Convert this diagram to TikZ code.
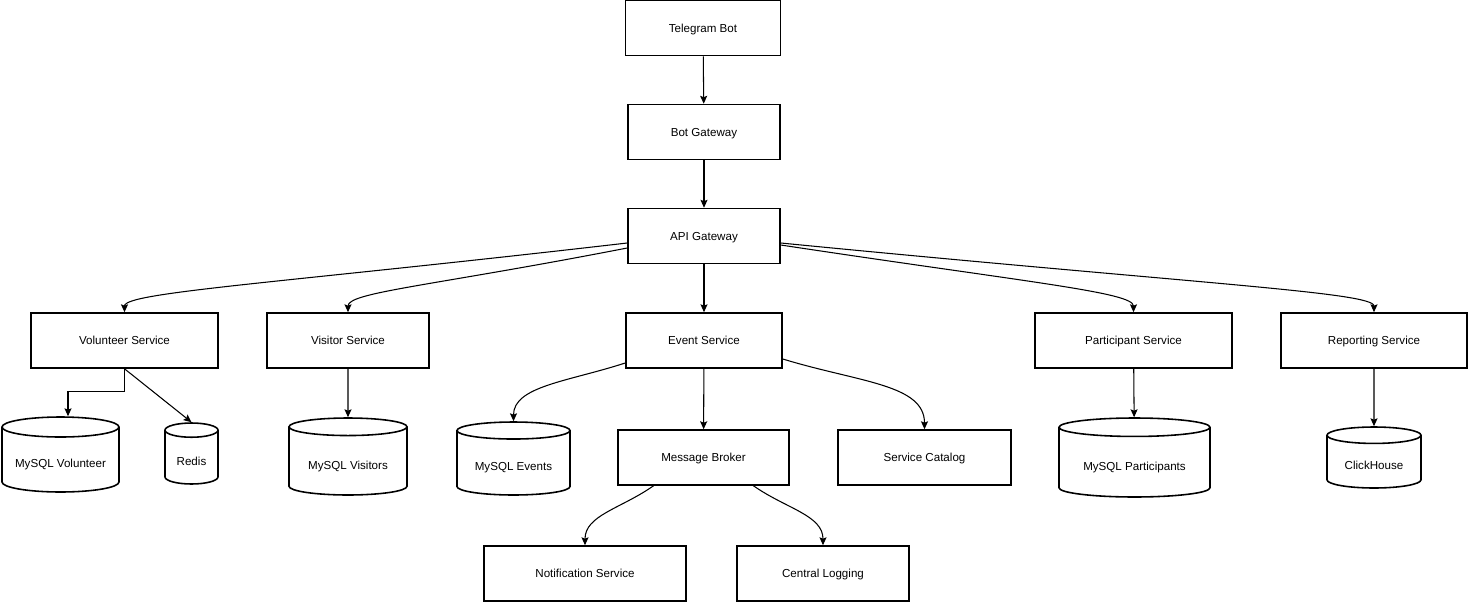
\documentclass[tikz,border=0pt]{standalone}
\usepackage{fontspec}
\setmainfont{Liberation Sans}
\usetikzlibrary{shapes.geometric,arrows.meta,positioning}

\tikzset{
  box/.style={draw, line width=0.9pt, minimum width=#1, minimum height=1.1cm, inner sep=0pt, text height=4.8pt, text depth=0pt, font=\fontsize{6.6}{8}\selectfont},
  db/.style={cylinder, shape border rotate=90, anchor=shape center, draw, line width=0.9pt, inner sep=0pt, text height=10.3pt, text depth=1.5pt, font=\fontsize{6.6}{8}\selectfont},
  arr/.style={-{Stealth[length=4.5pt,width=4pt,inset=0.8pt]}, line width=0.6pt}
}

\begin{document}
\begin{tikzpicture}[x=0.02cm,y=0.02cm]
      \useasboundingbox (0,0) rectangle (1468,-602);
      \node[box=3.1cm] (tg) at (703,-28) {Telegram Bot};
      \node[box=3.04cm] (botgw) at (704,-132) {Bot Gateway};
      \node[box=3.04cm] (apigw) at (704,-236) {API Gateway};
      \node[box=3.74cm] (vol) at (124.5,-340.5) {Volunteer Service};
      \node[box=3.24cm] (vis) at (348,-340.5) {Visitor Service};
      \node[box=3.12cm] (evt) at (704,-340.5) {Event Service};
      \node[box=3.94cm] (part) at (1133.5,-340.5) {Participant Service};
      \node[box=3.72cm] (rep) at (1374,-340.5) {Reporting Service};
      \node[box=3.42cm] (broker) at (703.5,-457.5) {Message Broker};
      \node[box=3.46cm] (catalog) at (924.5,-457.5) {Service Catalog};
      \node[box=4.04cm] (notif) at (585,-573.5) {Notification Service};
      \node[box=3.44cm] (logging) at (823,-573.5) {Central Logging};
      \node[db, minimum width=2.34cm, minimum height=1.5cm, aspect=0.22] (dbvol) at (60.5,-454.5) {MySQL Volunteer};
      \node[db, minimum width=1.06cm, minimum height=1.22cm, aspect=0.48] (redis) at (191.5,-453.5) {Redis};
      \node[db, minimum width=2.36cm, minimum height=1.54cm, aspect=0.22] (dbvis) at (348,-456.5) {MySQL Visitors};
      \node[db, minimum width=2.26cm, minimum height=1.46cm, aspect=0.22] (dbevt) at (513.5,-458.5) {MySQL Events};
      \node[db, minimum width=3.02cm, minimum height=1.58cm, aspect=0.18] (dbpart) at (1134.5,-457.5) {MySQL Participants};
      \node[db, minimum width=1.88cm, minimum height=1.22cm, aspect=0.28] (click) at (1374,-457.5) {ClickHouse};

      \draw[arr] (tg) -- (botgw);
      \draw[arr] (botgw) -- (apigw);
      \draw[arr] (apigw) -- (evt);
      \draw[arr] ([yshift=-0.14cm]apigw.west) to[out=186.6,in=90,out distance=7cm,in distance=0.4cm] (vol.north);
      \draw[arr] ([yshift=-0.24cm]apigw.west) to[out=191,in=90,out distance=4cm,in distance=0.4cm] (vis.north);
      \draw[arr] ([yshift=-0.18cm]apigw.east) to[out=351.4,in=90,out distance=5cm,in distance=0.4cm] (part.north);
      \draw[arr] ([yshift=-0.14cm]apigw.east) to[out=354.4,in=90,out distance=8.4cm,in distance=0.4cm] (rep.north);
      \draw[arr] (vol.south) -- ++(0,-23) -| ([xshift=0.15cm]dbvol.north);
      \draw[arr] (vol.south) -- (redis.north);
      \draw[arr] (vis) -- (dbvis);
      \draw[arr] (evt) -- (broker);
      \draw[arr] ([yshift=-0.45cm]evt.west) to[out=198,in=90,out distance=1.2cm,in distance=0.7cm] (dbevt.north);
      \draw[arr] ([yshift=-0.37cm]evt.east) to[out=343,in=90,out distance=1.6cm,in distance=0.9cm] (catalog.north);
      \draw[arr] ([xshift=-1cm]broker.south) to[out=215,in=90,out distance=0.8cm,in distance=0.6cm] (notif.north);
      \draw[arr] ([xshift=1cm]broker.south) to[out=325,in=90,out distance=0.8cm,in distance=0.6cm] (logging.north);
      \draw[arr] (part) -- (dbpart);
      \draw[arr] (rep) -- (click);
\end{tikzpicture}
\end{document}
